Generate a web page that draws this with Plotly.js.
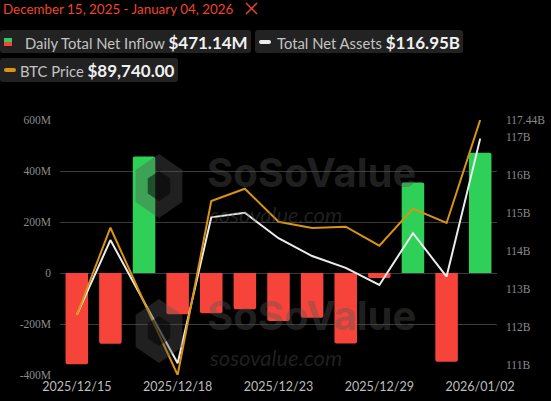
<!DOCTYPE html>
<html>
<head>
<meta charset="utf-8">
<script src="https://cdn.plot.ly/plotly-3.0.1.min.js"></script>
<style>
html,body{margin:0;padding:0;background:#000;}
#chart{width:551px;height:401px;}
</style>
</head>
<body>
<div id="chart"></div>
<script>
// ---- data ----
const dates = ["2025/12/15","2025/12/16","2025/12/17","2025/12/18","2025/12/19","2025/12/22","2025/12/23","2025/12/24","2025/12/26","2025/12/29","2025/12/30","2025/12/31","2026/01/02"];
const netInflowM = [-357.7, -277.2, 457.3, -161.3, -158.3, -142.2, -188.6, -175.3, -276.0, -19.3, 355.0, -348.1, 471.14];
const totalNetAssetsB = [112.31, 114.28, 112.66, 111.04, 114.88, 115.00, 114.33, 113.86, 113.55, 113.10, 114.46, 113.32, 116.95];
const btcPrice = [86192, 87780, 86428, 85100, 88266, 88490, 87889, 87775, 87799, 87453, 88126, 87866, 89740];
const xTickLabels = ["2025/12/15","2025/12/18","2025/12/23","2025/12/29","2026/01/02"];
const leftTicks = [-400, -200, 0, 200, 400, 600];
const leftTickText = ["-400M", "-200M", "0", "200M", "400M", "600M"];
const rightTicks = [111, 112, 113, 114, 115, 116, 117, 117.44];
const rightTickText = ["111B", "112B", "113B", "114B", "115B", "116B", "117B", "117.44B"];

// ---- geometry helpers (pixels -> paper) ----
const W = 551, H = 401, L = 60, R = 497, T = 120, B = 375;
const px = x => (x - L) / (R - L);
const py = y => (B - y) / (B - T);
function rrect(x0, y0, x1, y1, r) {
  const p = (x, y) => px(x) + ',' + py(y);
  return 'M' + p(x0 + r, y0) + ' L' + p(x1 - r, y0) + ' Q' + p(x1, y0) + ' ' + p(x1, y0 + r) +
    ' L' + p(x1, y1 - r) + ' Q' + p(x1, y1) + ' ' + p(x1 - r, y1) +
    ' L' + p(x0 + r, y1) + ' Q' + p(x0, y1) + ' ' + p(x0, y1 - r) +
    ' L' + p(x0, y0 + r) + ' Q' + p(x0, y0) + ' ' + p(x0 + r, y0) + ' Z';
}
function hexPath(cx, cy, rx, ry) {
  let s = '';
  for (let i = 0; i < 6; i++) {
    const a = Math.PI / 180 * (60 * i - 90);
    const x = cx + rx * Math.cos(a), y = cy + ry * Math.sin(a);
    s += (i === 0 ? 'M' : ' L') + px(x) + ',' + py(y);
  }
  return s + ' Z';
}

const green = '#2fd058', red = '#f7443a';
const barColors = netInflowM.map(v => v >= 0 ? green : red);

const traces = [
  {
    type: 'bar', x: dates, y: netInflowM, yaxis: 'y',
    marker: { color: barColors, cornerradius: 2, line: { width: 0 } },
    hoverinfo: 'skip', showlegend: false
  },
  {
    type: 'scatter', mode: 'lines', x: dates, y: totalNetAssetsB, yaxis: 'y2',
    line: { color: '#ececec', width: 2 }, hoverinfo: 'skip', showlegend: false
  },
  {
    type: 'scatter', mode: 'lines', x: dates, y: btcPrice, yaxis: 'y3',
    line: { color: '#d99411', width: 2 }, hoverinfo: 'skip', showlegend: false
  }
];

const wmColor = 'rgba(85,85,85,0.38)';
const shapes = [
  // legend boxes
  { type: 'path', xref: 'paper', yref: 'paper', path: rrect(0, 30, 251, 53, 3), fillcolor: '#222222', line: { width: 0 }, layer: 'below' },
  { type: 'path', xref: 'paper', yref: 'paper', path: rrect(255, 30, 463, 53, 3), fillcolor: '#222222', line: { width: 0 }, layer: 'below' },
  { type: 'path', xref: 'paper', yref: 'paper', path: rrect(0, 58, 178, 82, 3), fillcolor: '#222222', line: { width: 0 }, layer: 'below' },
  // legend markers
  { type: 'rect', xref: 'paper', yref: 'paper', x0: px(4), x1: px(12), y0: py(42), y1: py(38), fillcolor: green, line: { width: 0 } },
  { type: 'rect', xref: 'paper', yref: 'paper', x0: px(4), x1: px(12), y0: py(46), y1: py(42), fillcolor: red, line: { width: 0 } },
  { type: 'path', xref: 'paper', yref: 'paper', path: rrect(259, 40, 271, 44, 2), fillcolor: '#ececec', line: { width: 0 } },
  { type: 'path', xref: 'paper', yref: 'paper', path: rrect(4, 68, 16, 72, 2), fillcolor: '#d99411', line: { width: 0 } },
  // header X icon
  { type: 'line', xref: 'paper', yref: 'paper', x0: px(246), y0: py(3), x1: px(257), y1: py(14), line: { color: '#f0452b', width: 1.5 } },
  { type: 'line', xref: 'paper', yref: 'paper', x0: px(257), y0: py(3), x1: px(246), y1: py(14), line: { color: '#f0452b', width: 1.5 } },
  // watermark hexagons
  { type: 'path', xref: 'paper', yref: 'paper', path: hexPath(159, 186, 27, 32), fillcolor: wmColor, line: { width: 0 }, layer: 'above' },
  { type: 'path', xref: 'paper', yref: 'paper', path: hexPath(159, 331, 27, 32), fillcolor: wmColor, line: { width: 0 }, layer: 'above' },
  { type: 'path', xref: 'paper', yref: 'paper', path: hexPath(159, 186, 13, 15), fillcolor: 'rgba(0,0,0,0.5)', line: { width: 0 }, layer: 'above' },
  { type: 'path', xref: 'paper', yref: 'paper', path: hexPath(159, 331, 13, 15), fillcolor: 'rgba(0,0,0,0.5)', line: { width: 0 }, layer: 'above' }
];

const lato = 'Lato, "Open Sans", sans-serif';
const annotations = [
  { xref: 'paper', yref: 'paper', x: px(1), y: py(9), xanchor: 'left', yanchor: 'middle', showarrow: false,
    text: 'December 15, 2025 - January 04, 2026', font: { family: lato, size: 13.4, color: '#f0452b' } },
  { xref: 'paper', yref: 'paper', x: px(23), y: py(42), xanchor: 'left', yanchor: 'middle', showarrow: false,
    text: 'Daily Total Net Inflow <b><span style="font-size:17px;color:#f0f0f0">$471.14M</span></b>', font: { family: lato, size: 14.8, color: '#c4c4c4' } },
  { xref: 'paper', yref: 'paper', x: px(275), y: py(42), xanchor: 'left', yanchor: 'middle', showarrow: false,
    text: 'Total Net Assets <b><span style="font-size:17px;color:#f0f0f0">$116.95B</span></b>', font: { family: lato, size: 14.8, color: '#c4c4c4' } },
  { xref: 'paper', yref: 'paper', x: px(18), y: py(70), xanchor: 'left', yanchor: 'middle', showarrow: false,
    text: 'BTC Price <b><span style="font-size:17px;color:#f0f0f0">$89,740.00</span></b>', font: { family: lato, size: 14.8, color: '#c4c4c4' } },
  // watermarks
  { xref: 'paper', yref: 'paper', x: px(205), y: py(199), xanchor: 'left', yanchor: 'bottom', showarrow: false,
    text: '<b>SoSoValue</b>', font: { family: 'Inter, Lato, sans-serif', size: 40, color: wmColor } },
  { xref: 'paper', yref: 'paper', x: px(207), y: py(199), xanchor: 'left', yanchor: 'top', showarrow: false,
    text: '<i>sosovalue.com</i>', font: { family: 'Lato, sans-serif', size: 22, color: wmColor } },
  { xref: 'paper', yref: 'paper', x: px(205), y: py(342), xanchor: 'left', yanchor: 'bottom', showarrow: false,
    text: '<b>SoSoValue</b>', font: { family: 'Inter, Lato, sans-serif', size: 40, color: wmColor } },
  { xref: 'paper', yref: 'paper', x: px(207), y: py(342), xanchor: 'left', yanchor: 'top', showarrow: false,
    text: '<i>sosovalue.com</i>', font: { family: 'Lato, sans-serif', size: 22, color: wmColor } }
];

const layout = {
  width: W, height: H,
  margin: { l: L, r: W - R, t: T, b: H - B, pad: 0 },
  paper_bgcolor: '#000000', plot_bgcolor: '#000000',
  showlegend: false,
  bargap: 0.33,
  xaxis: {
    type: 'category', range: [-0.5, dates.length - 0.5],
    tickmode: 'array', tickvals: xTickLabels, ticktext: xTickLabels,
    showgrid: false, zeroline: false, showline: false, ticks: '',
    tickfont: { family: lato, size: 12.5, color: '#bdbdbd' }, ticklabelstandoff: 2
  },
  yaxis: {
    range: [-400, 600], tickmode: 'array', tickvals: leftTicks, ticktext: leftTickText,
    showgrid: true, gridcolor: '#3a3a3a', gridwidth: 1, zeroline: false, showline: false,
    ticks: '', tickfont: { family: '"Liberation Serif", "DejaVu Serif", serif', size: 11.5, color: '#8a8a8a' },
    ticklabelstandoff: 8
  },
  yaxis2: {
    overlaying: 'y', side: 'right', range: [110.73, 117.44],
    tickmode: 'array', tickvals: rightTicks, ticktext: rightTickText,
    showgrid: false, zeroline: false, showline: false, ticks: '',
    tickfont: { family: '"Liberation Serif", "DejaVu Serif", serif', size: 11.5, color: '#8a8a8a' },
    ticklabelstandoff: 8
  },
  yaxis3: {
    overlaying: 'y', side: 'right', visible: false, range: [85100, 89740]
  },
  shapes: shapes,
  annotations: annotations
};

Plotly.newPlot('chart', traces, layout, { displayModeBar: false, staticPlot: true });
</script>
</body>
</html>
